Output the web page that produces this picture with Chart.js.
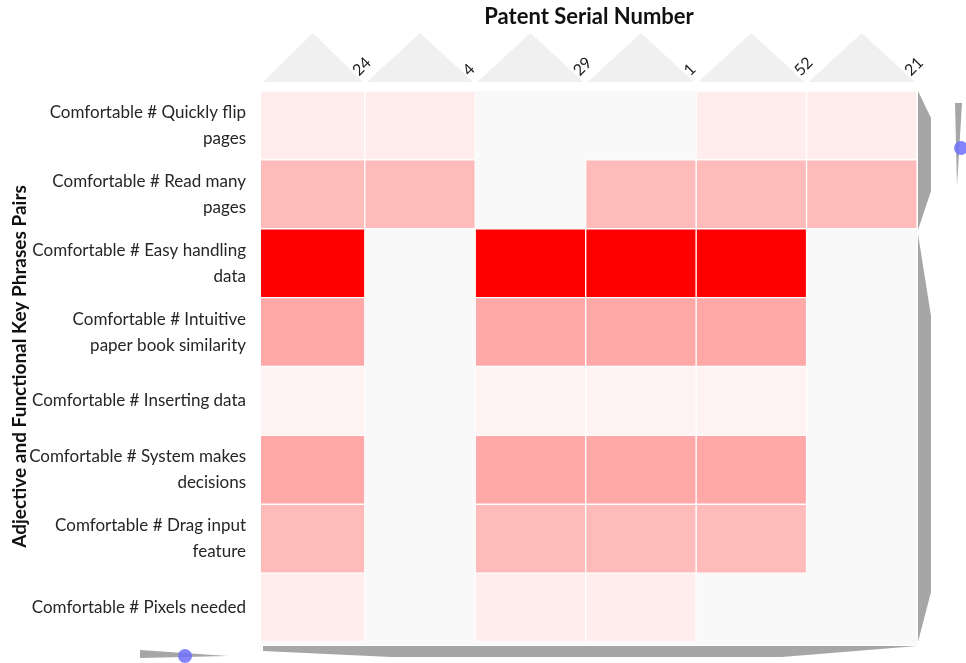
<!DOCTYPE html>
<html>
<head>
<meta charset="utf-8">
<script src="https://cdn.jsdelivr.net/npm/chart.js@4"></script>
<style>
  html, body { margin: 0; padding: 0; background: #fff; }
  canvas { display: block; }
</style>
</head>
<body>
<canvas id="heatChart" width="966" height="663"></canvas>
<script>
const phrases = [
  ['Comfortable # Quickly flip', 'pages'],
  ['Comfortable # Read many', 'pages'],
  ['Comfortable # Easy handling', 'data'],
  ['Comfortable # Intuitive', 'paper book similarity'],
  'Comfortable # Inserting data',
  ['Comfortable # System makes', 'decisions'],
  ['Comfortable # Drag input', 'feature'],
  'Comfortable # Pixels needed'
]
const patents = ['24', '4', '29', '1', '52', '21']

// link strength per patent, top row first (0 = no link)
const p24 = [7, 27, 100, 34, 5, 34, 27, 7]
const p4  = [7, 27, 0, 0, 0, 0, 0, 0]
const p29 = [0, 0, 100, 34, 5, 34, 27, 7]
const p1  = [0, 27, 100, 34, 5, 34, 27, 7]
const p52 = [7, 27, 100, 34, 5, 34, 27, 0]
const p21 = [7, 27, 0, 0, 0, 0, 0, 0]
const heat = [p24, p4, p29, p1, p52, p21]

const shade = (v) => {
    if (!v) return 'rgba(0,0,0,0)'
    let g = Math.round(255 * (1 - v / 100))
    return `rgb(255,${g},${g})`
}

const FONT = 'Lato, "Noto Sans", sans-serif'

// grey backdrop, column "roofs" and the scroll handles
const decor = {
    id: 'decor',
    beforeDraw(chart) {
        const {ctx, chartArea: a, scales: {x}} = chart
        ctx.save()
        ctx.fillStyle = '#f9f9f9'
        ctx.fillRect(a.left, a.top, a.right - a.left, a.bottom - a.top + 3)
        ctx.fillStyle = '#f0f0f0'
        for (let i = 0; i < patents.length; i++) {
            let l = Math.max(x.getPixelForValue(i), a.left) + 2
            let r = x.getPixelForValue(i + 1) - 2
            ctx.beginPath()
            ctx.moveTo(l, a.top - 9)
            ctx.lineTo((l + r) / 2, a.top - 58)
            ctx.lineTo(r, a.top - 9)
            ctx.closePath()
            ctx.fill()
        }
        ctx.restore()
    },
    afterDraw(chart) {
        const {ctx, chartArea: a} = chart
        ctx.save()
        ctx.fillStyle = '#a6a6a6'
        // right bar
        ctx.beginPath()
        ctx.moveTo(a.right + 1, a.top)
        ctx.lineTo(a.right + 14, a.top + 27)
        ctx.lineTo(a.right + 14, a.top + 100)
        ctx.lineTo(a.right + 1, a.top + 139)
        ctx.closePath()
        ctx.fill()
        ctx.beginPath()
        ctx.moveTo(a.right + 1, a.top + 143)
        ctx.lineTo(a.right + 14, a.top + 225)
        ctx.lineTo(a.right + 14, a.bottom - 50)
        ctx.lineTo(a.right + 1, a.bottom)
        ctx.closePath()
        ctx.fill()
        // bottom bar
        ctx.beginPath()
        ctx.moveTo(a.left + 2, a.bottom + 4)
        ctx.lineTo(a.right, a.bottom + 4)
        ctx.lineTo(a.right - 135, a.bottom + 15)
        ctx.lineTo(a.left + 130, a.bottom + 15)
        ctx.lineTo(a.left + 2, a.bottom + 9)
        ctx.closePath()
        ctx.fill()
        // bottom-left slider
        ctx.beginPath()
        ctx.moveTo(a.left - 121, a.bottom + 8)
        ctx.lineTo(a.left - 33, a.bottom + 14)
        ctx.lineTo(a.left - 121, a.bottom + 16)
        ctx.closePath()
        ctx.fill()
        // right slider
        ctx.beginPath()
        ctx.moveTo(a.right + 38, a.top + 12)
        ctx.lineTo(a.right + 45, a.top + 12)
        ctx.lineTo(a.right + 40, a.top + 95)
        ctx.closePath()
        ctx.fill()
        ctx.fillStyle = 'rgba(110,110,250,0.85)'
        ctx.beginPath()
        ctx.arc(a.left - 76, a.bottom + 14, 7, 0, Math.PI * 2)
        ctx.fill()
        ctx.beginPath()
        ctx.arc(a.right + 44, a.top + 57, 7, 0, Math.PI * 2)
        ctx.fill()
        ctx.restore()
    }
}

const datasets = patents.map((p, i) => ({
    label: p,
    data: phrases.map(() => 1),
    backgroundColor: (c) => shade(heat[i][c.dataIndex]),
    borderColor: '#ffffff',
    borderWidth: (c) => heat[i][c.dataIndex] ? 1 : 0,
    borderSkipped: false,
    barPercentage: 1,
    categoryPercentage: 1
}))

const config = {
    type: 'bar',
    data: {
        labels: phrases,
        datasets: datasets
    },
    options: {
        indexAxis: 'y',
        responsive: false,
        animation: false,
        layout: { padding: { left: 4, top: 0, right: 49, bottom: 21 } },
        plugins: {
            legend: { display: false },
            tooltip: { enabled: false }
        },
        scales: {
            x: {
                type: 'linear',
                position: 'top',
                stacked: true,
                // first column is partly scrolled out of view
                min: 0.06,
                max: patents.length,
                afterFit: (s) => { s.height = 91; s.paddingLeft = 0; s.paddingRight = 0 },
                grid: { display: false },
                border: { display: false },
                ticks: {
                    stepSize: 1,
                    minRotation: 45,
                    maxRotation: 45,
                    labelOffset: 4,
                    padding: 3,
                    color: '#222',
                    font: { family: FONT, size: 16 },
                    callback: (v) => Number.isInteger(v) && v >= 1 ? patents[v - 1] : ''
                },
                title: {
                    display: true,
                    text: 'Patent Serial Number',
                    color: '#111',
                    font: { family: FONT, size: 22, weight: 'bold' },
                    padding: { top: 4, bottom: 0 }
                }
            },
            y: {
                stacked: true,
                afterFit: (s) => { s.width = 257; s.paddingTop = 0; s.paddingBottom = 0 },
                grid: { display: false },
                border: { display: false },
                ticks: {
                    padding: 7,
                    color: '#262626',
                    font: { family: FONT, size: 17, lineHeight: 1.53 }
                },
                title: {
                    display: true,
                    text: 'Adjective and Functional Key Phrases Pairs',
                    color: '#111',
                    font: { family: FONT, size: 19, weight: 'bold' },
                    padding: { top: 4, bottom: 0 }
                }
            }
        }
    },
    plugins: [decor]
}

const heatChart = new Chart(document.getElementById('heatChart'), config)
</script>
</body>
</html>
